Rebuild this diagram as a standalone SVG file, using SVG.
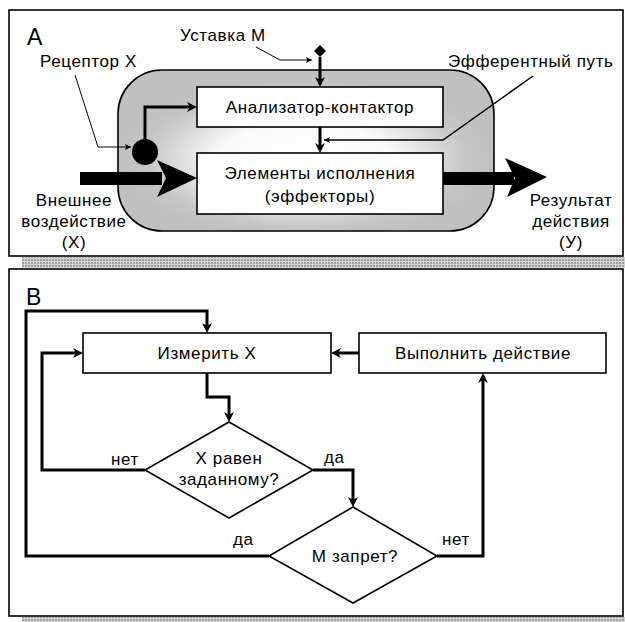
<svg xmlns="http://www.w3.org/2000/svg" width="625" height="622" viewBox="0 0 625 622">
  <style>
    text { font-family: "Liberation Sans", Arial, sans-serif; fill: #000; }
    .lbl { font-size: 17px; letter-spacing: 0.6px; }
    .mid { text-anchor: middle; }
    .big { font-size: 23px; }
    .box { fill: #fff; stroke: #000; stroke-width: 1.6; }
    .frame { fill: #fff; stroke: #000; stroke-width: 1.6; }
    .thick { fill: none; stroke: #000; stroke-width: 3; }
    .thin { fill: none; stroke: #000; stroke-width: 1; }
  </style>
  <defs>
    <pattern id="hatch" width="3" height="3" patternUnits="userSpaceOnUse">
      <rect width="3" height="3" fill="#a0a0a0"/>
      <path d="M0,0.5 H3 M0.5,0 V3" stroke="#d4d4d4" stroke-width="1"/>
    </pattern>
    <radialGradient id="shade" cx="0.5" cy="0.55" r="0.5">
      <stop offset="0" stop-color="#ffffff"/>
      <stop offset="0.45" stop-color="#fafafa"/>
      <stop offset="0.85" stop-color="#c6c6c6"/>
      <stop offset="1" stop-color="#c0c0c0"/>
    </radialGradient>
    <marker id="arr" viewBox="0 0 10 10" markerWidth="10" markerHeight="10" markerUnits="userSpaceOnUse" refX="5" refY="5" orient="auto">
      <path d="M0,0 L10,5 L0,10 L3,5 z" fill="#000"/>
    </marker>
    <marker id="arrs" viewBox="0 0 10 10" markerWidth="7" markerHeight="6" markerUnits="userSpaceOnUse" refX="10" refY="5" orient="auto">
      <path d="M0,0 L10,5 L0,10 L2,5 z" fill="#000"/>
    </marker>
  </defs>

  <!-- panel frames with hatched drop shadows -->
  <g id="panel-a">
    <rect x="22" y="257" width="603" height="11" fill="url(#hatch)"/>
    <rect class="frame" x="9" y="10" width="614" height="246"/>
    <text class="big" x="27" y="45">A</text>
  </g>
  <g id="panel-b">
    <rect x="22" y="617" width="603" height="5" fill="url(#hatch)"/>
    <rect class="frame" x="9" y="269" width="614" height="347"/>
    <text class="big" x="26" y="305">B</text>
  </g>

  <!-- panel A: reflex arc -->
  <g id="body">
    <rect x="118" y="70" width="376" height="161" rx="44" ry="44" fill="url(#shade)" stroke="#000" stroke-width="1.6"/>
  </g>
  <g id="analyzer">
    <rect class="box" x="197" y="87" width="246" height="40"/>
    <text class="lbl mid" x="320" y="113">Анализатор-контактор</text>
  </g>
  <g id="effectors">
    <rect class="box" x="197" y="153" width="246" height="61"/>
    <text class="lbl mid" x="320" y="179">Элементы исполнения</text>
    <text class="lbl mid" x="320" y="202">(эффекторы)</text>
  </g>
  <g id="receptor">
    <circle cx="145" cy="152" r="13" fill="#000"/>
  </g>
  <g id="setpoint">
    <path d="M320,45 L326,51 L320,57 L314,51 z" fill="#000"/>
  </g>
  <g id="labels-a">
    <text class="lbl" x="180" y="41">Уставка M</text>
    <text class="lbl" x="40" y="67">Рецептор X</text>
    <text class="lbl" x="448" y="67">Эфферентный путь</text>
    <text class="lbl mid" x="74" y="206">Внешнее</text>
    <text class="lbl mid" x="74" y="227">воздействие</text>
    <text class="lbl mid" x="74" y="248">(X)</text>
    <text class="lbl mid" x="571" y="206">Результат</text>
    <text class="lbl mid" x="571" y="227">действия</text>
    <text class="lbl mid" x="571" y="248">(У)</text>
  </g>
  <g id="connectors-a">
    <!-- pointer lines -->
    <path class="thin" d="M256,47 L280,60 H312" marker-end="url(#arrs)"/>
    <path class="thin" d="M75,75 L98,147 H131" marker-end="url(#arrs)"/>
    <path fill="none" stroke="#000" stroke-width="1.5" d="M533,76 L443,140 H324" marker-end="url(#arrs)"/>
    <!-- signal paths -->
    <path class="thick" d="M320,57 V82" marker-end="url(#arr)"/>
    <path class="thick" d="M320,127 V148" marker-end="url(#arr)"/>
    <path class="thick" d="M145,140 V107 H192" marker-end="url(#arr)"/>
    <!-- input and output arrows -->
    <path d="M80,172 H162 V185 H80 z" fill="#000"/>
    <path d="M157,160 L197,178 L157,197 L166,178 z" fill="#000"/>
    <path d="M443,172 H514 V185 H443 z" fill="#000"/>
    <path d="M505,158 L547,177 L507,197 L515,178 z" fill="#000"/>
  </g>

  <!-- panel B: control loop -->
  <g id="measure">
    <rect class="box" x="83" y="333" width="248" height="40"/>
    <text class="lbl mid" x="207" y="359">Измерить X</text>
  </g>
  <g id="act">
    <rect class="box" x="359" y="333" width="247" height="40"/>
    <text class="lbl mid" x="483" y="359">Выполнить действие</text>
  </g>
  <g id="check-x">
    <path class="box" d="M229,422 L313,470 L229,518 L145,470 z"/>
    <text class="lbl mid" x="229" y="464">X равен</text>
    <text class="lbl mid" x="229" y="485">заданному?</text>
  </g>
  <g id="check-m">
    <path class="box" d="M353,507 L437,556 L353,603 L269,556 z"/>
    <text class="lbl mid" x="355" y="562">M запрет?</text>
  </g>
  <g id="connectors-b">
    <path class="thick" d="M207,373 V397 H229 V417" marker-end="url(#arr)"/>
    <path class="thick" d="M145,470 H42 V353 H78" marker-end="url(#arr)"/>
    <path class="thick" d="M313,470 H353 V502" marker-end="url(#arr)"/>
    <path class="thick" d="M269,556 H26 V311 H207 V328" marker-end="url(#arr)"/>
    <path class="thick" d="M437,556 H483 V378" marker-end="url(#arr)"/>
    <path class="thick" d="M359,353 H336" marker-end="url(#arr)"/>
    <text class="lbl" x="111" y="465">нет</text>
    <text class="lbl" x="324" y="463">да</text>
    <text class="lbl" x="233" y="545">да</text>
    <text class="lbl" x="442" y="545">нет</text>
  </g>
</svg>
